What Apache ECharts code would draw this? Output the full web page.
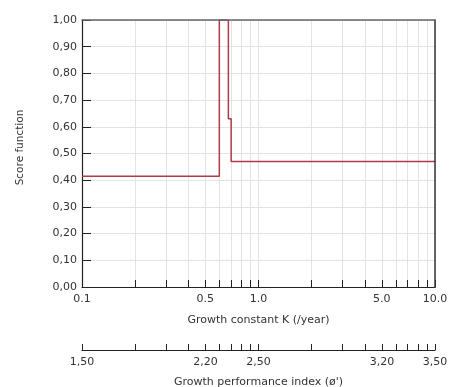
<!DOCTYPE html>
<html>
<head>
<meta charset="utf-8">
<script src="https://cdn.jsdelivr.net/npm/echarts@6/dist/echarts.min.js"></script>
<style>
html,body{margin:0;padding:0;background:#fff;}
#c{width:453px;height:387px;}
</style>
</head>
<body>
<div id="c"></div>
<script>
// Data
var kValues = [0.1, 0.6, 0.6, 0.675, 0.675, 0.7, 0.7, 10];
var scoreValues = [0.415, 0.415, 1.0, 1.0, 0.63, 0.63, 0.47, 0.47];
var kTicks = [0.1,0.2,0.3,0.4,0.5,0.6,0.7,0.8,0.9,1,2,3,4,5,6,7,8,9,10];
var kLabels = [0.1, 0.5, 1, 5, 10];
var phiLabels = [1.50, 2.20, 2.50, 3.20, 3.50];
var phiTicks = kTicks.map(function(k){ return 2.5 + Math.log10(k); });

var font = 'DejaVu Sans, sans-serif';
var fs = 11;
var chart = echarts.init(document.getElementById('c'));
var pts = kValues.map(function(k,i){ return [k, scoreValues[i]]; });

chart.setOption({
  animation: false,
  grid: {left: 82, right: 18, top: 20, bottom: 100, show: false, containLabel: false, outerBoundsMode: 'none'},
  xAxis: [{
    type: 'log', logBase: 10, min: 0.1, max: 10, gridIndex: 0, position: 'bottom',
    name: 'Growth constant K (/year)', nameLocation: 'middle', nameGap: 28,
    nameTextStyle: {fontFamily: font, fontSize: fs, color: '#333'},
    axisLine: {show: true, onZero: false, lineStyle: {color: '#222', width: 1.2}},
    axisTick: {show: true, inside: true, length: 7, customValues: kTicks, lineStyle: {color: '#222'}},
    minorTick: {show: false},
    splitLine: {show: true, lineStyle: {color: '#e3e3e3', width: 1}},
    axisLabel: {customValues: kLabels, margin: 7, fontFamily: font, fontSize: fs, color: '#333',
      formatter: function(v){ return Number(v).toFixed(1); }}
  }, {
    type: 'value', min: 1.5, max: 3.5, gridIndex: 0, position: 'bottom', offset: 63,
    name: "Growth performance index (\u00f8')", nameLocation: 'middle', nameGap: 27,
    nameTextStyle: {fontFamily: font, fontSize: fs, color: '#333'},
    axisLine: {show: true, onZero: false, lineStyle: {color: '#222', width: 1.2}},
    axisTick: {show: true, inside: true, length: 6, customValues: phiTicks, lineStyle: {color: '#222'}},
    splitLine: {show: false},
    axisLabel: {customValues: phiLabels, margin: 7, fontFamily: font, fontSize: fs, color: '#333',
      formatter: function(v){ return Number(v).toFixed(2).replace('.', ','); }}
  }, {
    type: 'log', logBase: 10, min: 0.1, max: 10, gridIndex: 0, position: 'top', z: 5,
    axisLine: {show: true, onZero: false, lineStyle: {color: '#666', width: 1.5}},
    axisTick: {show: false}, axisLabel: {show: false}, splitLine: {show: false}
  }],
  yAxis: [{
    type: 'value', min: 0, max: 1, interval: 0.1,
    name: 'Score function', nameLocation: 'middle', nameGap: 56, nameRotate: 90,
    nameTextStyle: {fontFamily: font, fontSize: 10.5, color: '#333', padding: [0, 0, 0, 12]},
    axisLine: {show: true, onZero: false, lineStyle: {color: '#222', width: 1.2}},
    axisTick: {show: true, inside: true, length: 9, lineStyle: {color: '#222'}},
    splitLine: {show: true, lineStyle: {color: '#e3e3e3', width: 1}},
    axisLabel: {margin: 5, fontFamily: font, fontSize: fs, color: '#333',
      formatter: function(v){ return Number(v).toFixed(2).replace('.', ','); }}
  }, {
    type: 'value', min: 0, max: 1, position: 'right', z: 5,
    axisLine: {show: true, onZero: false, lineStyle: {color: '#333', width: 1.5}},
    axisTick: {show: false}, axisLabel: {show: false}, splitLine: {show: false}
  }],
  series: [{
    type: 'line', xAxisIndex: 0, yAxisIndex: 0, data: pts, showSymbol: false, symbol: 'none',
    lineStyle: {color: '#b03a48', width: 1.5}, clip: true
  }]
});
</script>
</body>
</html>
